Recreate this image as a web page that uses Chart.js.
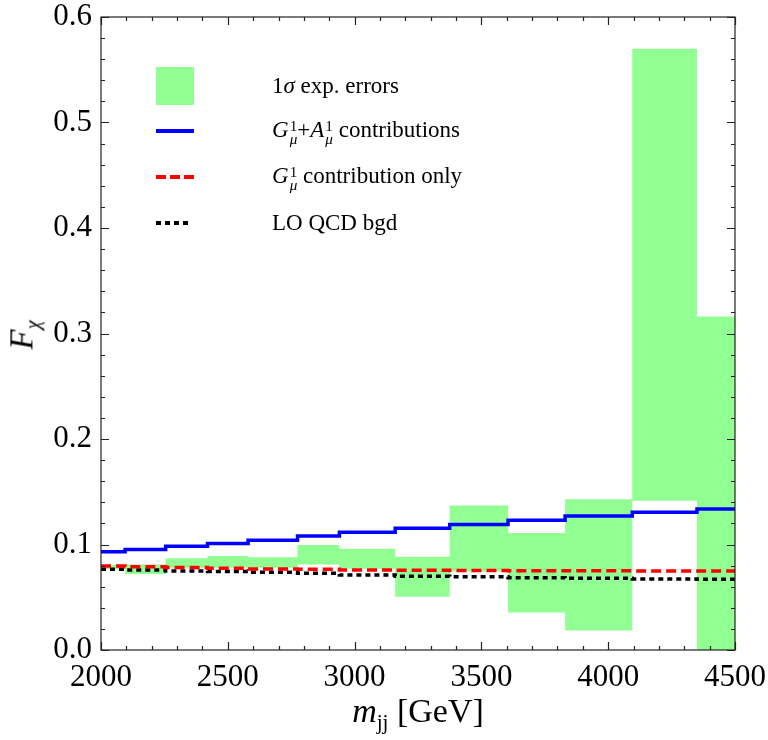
<!DOCTYPE html>
<html>
<head>
<meta charset="utf-8">
<script src="https://cdn.jsdelivr.net/npm/chart.js@4/dist/chart.umd.min.js"></script>
<style>
  body { margin: 0; background: #fff; }
  #wrap { position: relative; width: 768px; height: 740px; font-family: "Liberation Serif", "DejaVu Serif", serif; }
  #legend { position: absolute; left: 156px; top: 62px; font-size: 23px; color: #000; }
  .row { position: absolute; left: 0; height: 40px; width: 440px; }
  .row .txt { position: absolute; left: 116px; top: 50%; transform: translateY(-50%); white-space: nowrap; }
  .sw { position: absolute; left: 0; width: 38px; }
  .st { display: inline-flex; flex-direction: column; font-size: 0.66em; line-height: 0.9; vertical-align: 0.42em; margin-left: 1px; }
  .st i { font-style: italic; }
  #xtitle { position: absolute; left: 0; width: 836px; top: 692px; text-align: center; font-size: 34px; }
  #ytitle { position: absolute; left: 24px; top: 335px; font-size: 33px; transform: translate(-50%, -50%) rotate(-90deg); white-space: nowrap; }
  sub { font-size: 0.62em; vertical-align: -0.35em; }
</style>
</head>
<body>
<div id="wrap">
  <canvas id="c" width="768" height="740"></canvas>
  <div id="legend">
    <div class="row" style="top:4px"><div class="sw" style="top:1px;height:38px;background:rgb(146,255,146)"></div><span class="txt">1<i>σ</i> exp. errors</span></div>
    <div class="row" style="top:49px"><div class="sw" style="top:18px;height:4px;background:#0000ff"></div><span class="txt"><i>G</i><span class="st"><span>1</span><i>μ</i></span>+<i>A</i><span class="st"><span>1</span><i>μ</i></span> contributions</span></div>
    <div class="row" style="top:95px"><div class="sw" style="top:18px;height:4px;background:repeating-linear-gradient(90deg,#ff0000 0 10px,transparent 10px 14px)"></div><span class="txt"><i>G</i><span class="st"><span>1</span><i>μ</i></span> contribution only</span></div>
    <div class="row" style="top:141px"><div class="sw" style="top:18px;height:4px;width:36px;background:repeating-linear-gradient(90deg,#000 0 5px,transparent 5px 9px)"></div><span class="txt">LO QCD bgd</span></div>
  </div>
  <div id="xtitle"><i>m</i><sub>jj</sub> [GeV]</div>
  <div id="ytitle"><i>F</i><sub><i>χ</i></sub></div>
</div>
<script>
// bin edges in m_jj (GeV)
const binEdges = [2000, 2095, 2255, 2420, 2580, 2775, 2940, 3160, 3375, 3605, 3830, 4095, 4350, 4500];

// 1 sigma experimental error band, per bin
const errLow  = [0.0765, 0.072, 0.078, 0.078, 0.078, 0.081, 0.077, 0.0505, 0.0745, 0.0355, 0.0185, 0.1415, 0.0];
const errHigh = [0.0805, 0.081, 0.087, 0.089, 0.088, 0.0995, 0.096, 0.0885, 0.137, 0.111, 0.1428, 0.57, 0.316];

// G1 + A1 contributions
const kkBoth = [0.0932, 0.0952, 0.0983, 0.101, 0.104, 0.108, 0.1115, 0.1153, 0.119, 0.123, 0.127, 0.1305, 0.1336];
// G1 contribution only
const kkGluon = [0.0796, 0.079, 0.0783, 0.0775, 0.0768, 0.0765, 0.0758, 0.0755, 0.0753, 0.0752, 0.0751, 0.075, 0.075];
// LO QCD background
const qcdBgd = [0.0765, 0.0758, 0.075, 0.0745, 0.0736, 0.0727, 0.0712, 0.0698, 0.0695, 0.0686, 0.068, 0.0673, 0.067];

const xMajor = [2000, 2500, 3000, 3500, 4000, 4500];
const yMajor = [0.0, 0.1, 0.2, 0.3, 0.4, 0.5, 0.6];

// per-bin values -> histogram outline (flat segment across each bin)
function toSteps(vals) {
    const pts = [];
    vals.forEach((v, i) => {
        pts.push({ x: binEdges[i], y: v });
        pts.push({ x: binEdges[i + 1], y: v });
    });
    return pts;
}

const isMajorY = v => yMajor.some(m => Math.abs(m - v) < 1e-6);
const isMajorX = v => xMajor.includes(Math.round(v));

// inward ticks on all four sides plus the frame
const frameTicks = {
    id: 'frameTicks',
    afterDatasetsDraw(chart) {
        const { ctx, chartArea: a, scales: { x, y } } = chart;
        ctx.save();
        ctx.strokeStyle = '#222';
        ctx.lineWidth = 1.2;
        ctx.strokeRect(a.left, a.top, a.right - a.left, a.bottom - a.top);
        ctx.beginPath();
        x.ticks.forEach(t => {
            const px = Math.round(x.getPixelForValue(t.value)) + 0.5;
            const len = isMajorX(t.value) ? 8 : 4;
            ctx.moveTo(px, a.bottom); ctx.lineTo(px, a.bottom - len);
            ctx.moveTo(px, a.top); ctx.lineTo(px, a.top + len);
        });
        y.ticks.forEach(t => {
            const py = Math.round(y.getPixelForValue(t.value)) + 0.5;
            const len = isMajorY(t.value) ? 8 : 4;
            ctx.moveTo(a.left, py); ctx.lineTo(a.left + len, py);
            ctx.moveTo(a.right, py); ctx.lineTo(a.right - len, py);
        });
        ctx.stroke();
        ctx.restore();
    }
};

const lineStyle = { pointRadius: 0, borderWidth: 3.5, fill: false, tension: 0 };

new Chart(document.getElementById('c'), {
    type: 'line',
    data: {
        datasets: [
            Object.assign({}, lineStyle, { label: 'G1+A1 contributions', data: toSteps(kkBoth), borderColor: '#0000ff', order: 1 }),
            Object.assign({}, lineStyle, { label: 'G1 contribution only', data: toSteps(kkGluon), borderColor: '#ff0000', borderDash: [10, 5], order: 2 }),
            Object.assign({}, lineStyle, { label: 'LO QCD bgd', data: toSteps(qcdBgd), borderColor: '#000000', borderDash: [5, 4], order: 3 }),
            { label: '1σ exp. errors', data: toSteps(errHigh), pointRadius: 0, borderWidth: 0,
              borderColor: 'rgba(0,0,0,0)', backgroundColor: 'rgb(146,255,146)', fill: '+1', order: 10 },
            { label: 'err low', data: toSteps(errLow), pointRadius: 0, borderWidth: 0,
              borderColor: 'rgba(0,0,0,0)', fill: false, order: 11 }
        ]
    },
    options: {
        responsive: false,
        animation: false,
        layout: { padding: { left: 0, right: 33, top: 17, bottom: 0 } },
        plugins: { legend: { display: false }, tooltip: { enabled: false } },
        scales: {
            x: {
                type: 'linear',
                min: 2000,
                max: 4500,
                grid: { display: false, drawTicks: false },
                border: { display: false },
                afterFit: s => { s.height = 90; s.paddingLeft = 0; s.paddingRight = 0; },
                ticks: {
                    stepSize: 100,
                    autoSkip: false,
                    maxRotation: 0,
                    padding: 9,
                    color: '#000',
                    font: { family: 'Liberation Serif', size: 31 },
                    callback: v => isMajorX(v) ? String(Math.round(v)) : ''
                }
            },
            y: {
                min: 0,
                max: 0.6,
                grid: { display: false, drawTicks: false },
                border: { display: false },
                afterFit: s => { s.width = 101; s.paddingTop = 0; s.paddingBottom = 0; },
                ticks: {
                    stepSize: 0.02,
                    autoSkip: false,
                    padding: 9,
                    color: '#000',
                    font: { family: 'Liberation Serif', size: 31 },
                    callback: v => isMajorY(v) ? v.toFixed(1) : ''
                }
            }
        }
    },
    plugins: [frameTicks]
});
</script>
</body>
</html>
